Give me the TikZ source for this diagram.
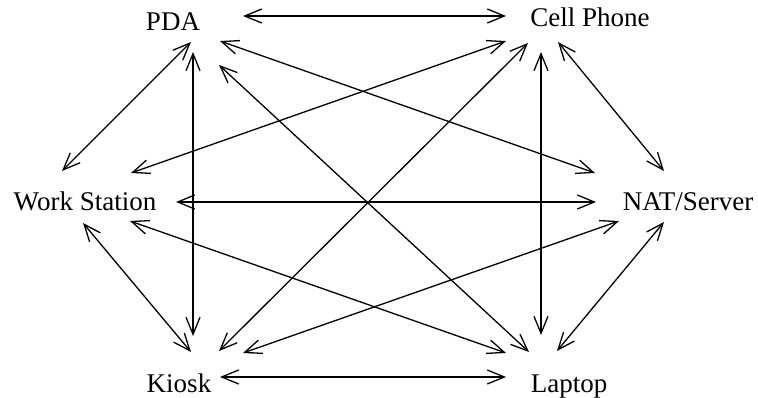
\documentclass[tikz,border=0pt]{standalone}
\usepackage{fontspec}
\setmainfont{Liberation Serif}
\usetikzlibrary{arrows.meta}

\begin{document}
\begin{tikzpicture}[x=1pt, y=-1pt,
    lbl/.style={inner sep=0pt, anchor=base, font=\fontsize{27}{32}\selectfont},
    liga/.style={black, line width=1.3pt, {Straight Barb[length=17pt,width=14pt]}-{Straight Barb[length=17pt,width=14pt]}}]
      \useasboundingbox (0,0) rectangle (758,398);

      % Rotulos
      \node[lbl] (pda)    at (173,31)  {PDA};
      \node[lbl] (cell)   at (590,27)  {Cell Phone};
      \node[lbl] (ws)     at (85,211)  {Work Station};
      \node[lbl] (nat)    at (688,211) {NAT/Server};
      \node[lbl] (kiosk)  at (179,392) {Kiosk};
      \node[lbl] (laptop) at (569,392) {Laptop};

      % Ligacoes do PDA
      \draw[liga] ([shift={(70,-15)}]pda.base) -- ([shift={(-84,-11)}]cell.base);
      \draw[liga] ([shift={(18,11)}]pda.base)  -- ([shift={(-23,-40)}]ws.base);
      \draw[liga] ([shift={(20,21)}]pda.base)  -- ([shift={(14,-56)}]kiosk.base);
      \draw[liga] ([shift={(46,34)}]pda.base)  -- ([shift={(-40,-40)}]laptop.base);
      \draw[liga] ([shift={(47,10)}]pda.base)  -- ([shift={(-93,-38)}]nat.base);

      % Ligacoes do Cell Phone
      \draw[liga] ([shift={(-84,14)}]cell.base) -- ([shift={(46,-38)}]ws.base);
      \draw[liga] ([shift={(-62,16)}]cell.base) -- ([shift={(40,-41)}]kiosk.base);
      \draw[liga] ([shift={(-49,25)}]cell.base) -- ([shift={(-28,-57)}]laptop.base);
      \draw[liga] ([shift={(-32,15)}]cell.base) -- ([shift={(-24,-40)}]nat.base);

      % Ligacoes da Work Station
      \draw[liga] ([shift={(91,-9)}]ws.base) -- ([shift={(-92,-9)}]nat.base);
      \draw[liga] ([shift={(-2,12)}]ws.base) -- ([shift={(12,-40)}]kiosk.base);
      \draw[liga] ([shift={(45,10)}]ws.base) -- ([shift={(-63,-39)}]laptop.base);

      % Ligacoes de baixo
      \draw[liga] ([shift={(64,-39)}]kiosk.base)  -- ([shift={(-69,10)}]nat.base);
      \draw[liga] ([shift={(41,-15)}]kiosk.base)  -- ([shift={(-63,-15)}]laptop.base);
      \draw[liga] ([shift={(-12,-41)}]laptop.base) -- ([shift={(-24,11)}]nat.base);

    \end{tikzpicture}
\end{document}
